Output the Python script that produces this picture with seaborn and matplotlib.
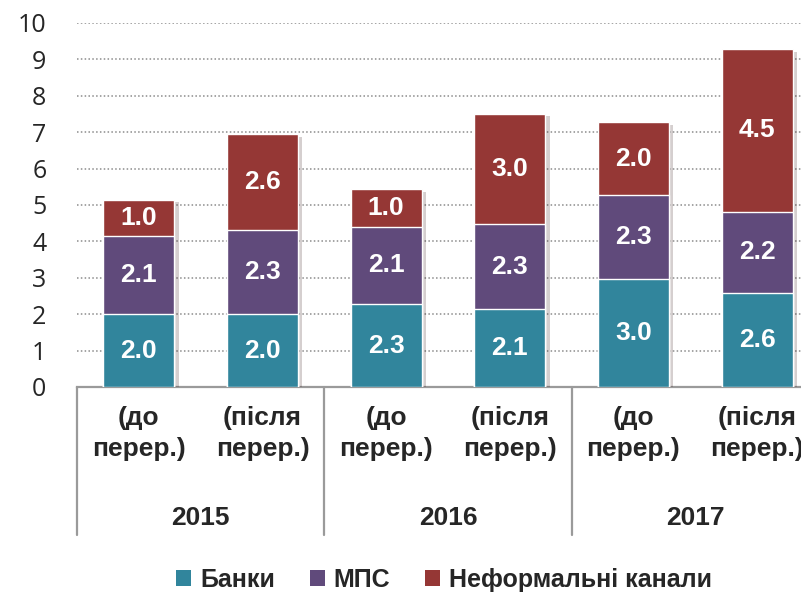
import matplotlib
matplotlib.use("Agg")
import matplotlib.pyplot as plt
import matplotlib.patheffects as pe
from matplotlib.patches import Patch
import numpy as np
import pandas as pd
import seaborn as sns

# --- data (bn USD) ---
years = ["2015", "2016", "2017"]
periods = ["2015 до", "2015 після", "2016 до", "2016 після", "2017 до", "2017 після"]
period_labels = ["(до\nперер.)", "(після\nперер.)"] * 3
banks = [2.0, 2.0, 2.28, 2.14, 2.97, 2.58]
mps = [2.14, 2.31, 2.12, 2.34, 2.30, 2.24]
informal = [1.01, 2.64, 1.04, 3.03, 2.01, 4.47]
series_names = ["Банки", "МПС", "Неформальні канали"]
series_colors = ["#31859C", "#604A7B", "#953735"]

df = pd.DataFrame({"period": periods, "banks": banks, "mps": mps, "informal": informal})
df["lvl1"] = df["banks"]
df["lvl2"] = df["banks"] + df["mps"]
df["lvl3"] = df["lvl2"] + df["informal"]

sns.set_theme(style="white")
plt.rcParams["font.family"] = ["Open Sans", "DejaVu Sans"]
FS = 19
BF = {"family": ["Liberation Sans", "DejaVu Sans"], "weight": "bold", "size": FS}

fig = plt.figure(figsize=(8.01, 5.96), dpi=100)
ax = fig.add_axes([77 / 801, 209 / 596, 742 / 801, 364 / 596])

bar_w = 0.575
# stacked bars drawn as cumulative layers, tallest first
for col, color in zip(["lvl3", "lvl2", "lvl1"], series_colors[::-1]):
    sns.barplot(data=df, x="period", y=col, order=periods, color=color, saturation=1,
                width=bar_w, errorbar=None, ax=ax, zorder=3)
for p in ax.patches[:len(periods)]:
    p.set_path_effects([pe.SimplePatchShadow(offset=(3, -2), alpha=0.2), pe.Normal()])

# segment labels
for i, row in df.iterrows():
    for lo, val in [(0, row["banks"]), (row["lvl1"], row["mps"]), (row["lvl2"], row["informal"])]:
        ax.text(i, lo + val / 2, f"{val:.1f}", ha="center", va="center", color="white",
                fontdict=BF, zorder=5)

ax.set_ylim(0, 10)
ax.set_xlim(-0.5, 5.5)
ax.set_yticks(range(0, 11))
ax.yaxis.grid(True, linestyle=(0, (1, 1.5)), color="#8c8c8c", linewidth=1.1, zorder=0)
ax.set_axisbelow(True)
for s in ["left", "right", "top"]:
    ax.spines[s].set_visible(False)
ax.spines["bottom"].set_color("#9a9a9a")
ax.spines["bottom"].set_linewidth(1.6)

ax.tick_params(axis="y", length=0, pad=22, labelsize=18)
ax.tick_params(axis="x", length=0, pad=14)
ax.set_xticks(range(len(periods)))
ax.set_xticklabels(period_labels, fontdict=BF, linespacing=1.35)
ax.set_xlabel("")
ax.set_ylabel("")

# year labels and separators
trans = ax.get_xaxis_transform()
for k, yr in enumerate(years):
    ax.text(2 * k + 0.5, -0.36, yr, transform=trans, ha="center", va="center", fontdict=BF)
for xs in [-0.5, 1.5, 3.5, 5.5]:
    ax.plot([xs, xs], [0, -0.407], transform=trans, color="#9a9a9a", linewidth=1.6,
            clip_on=False)

handles = [Patch(facecolor=c, edgecolor="none") for c in series_colors]
leg = fig.legend(handles, series_names, loc="center", bbox_to_anchor=(444 / 801, 16 / 596),
                 ncol=3, frameon=False, handlelength=0.6, handleheight=0.6,
                 handletextpad=0.35, columnspacing=1.4,
                 prop={"family": ["Liberation Sans", "DejaVu Sans"], "size": FS - 1,
                       "weight": "bold"})

fig.savefig("out.png", dpi=100)
